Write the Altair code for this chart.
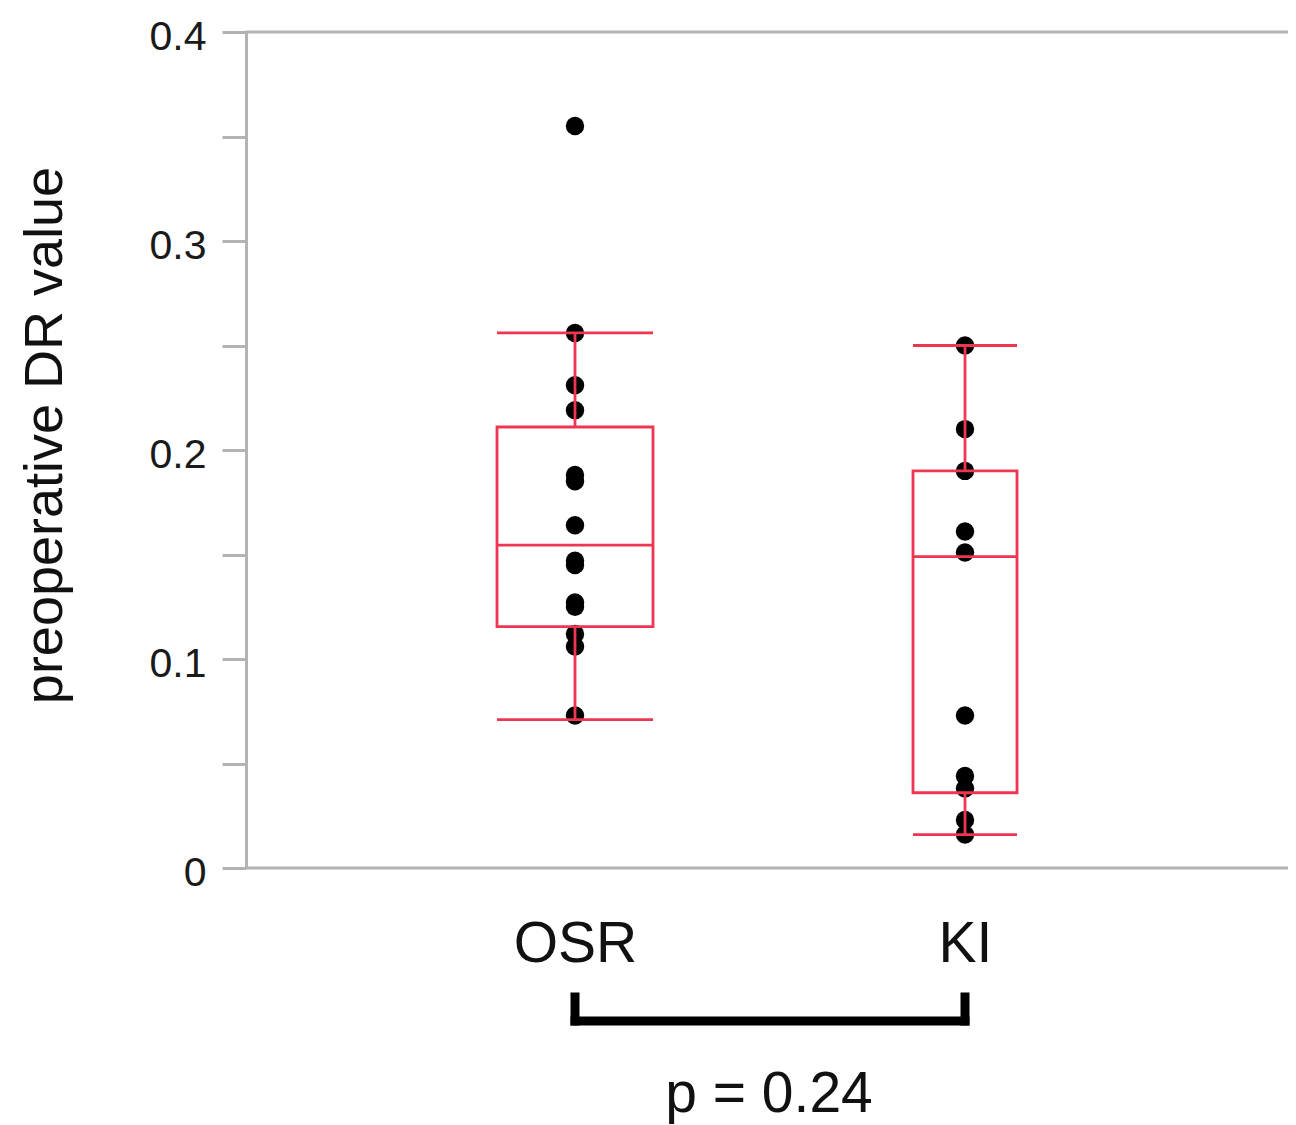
import altair as alt
import pandas as pd

# ---- data ----
groups = ["OSR", "KI"]
osr_values = [0.355, 0.256, 0.231, 0.219, 0.188, 0.185, 0.164, 0.147, 0.145,
              0.127, 0.125, 0.112, 0.106, 0.073]
ki_values = [0.250, 0.210, 0.190, 0.161, 0.151, 0.073, 0.044, 0.038, 0.023, 0.016]

box_low = [0.071, 0.016]
box_q1 = [0.1155, 0.036]
box_median = [0.1545, 0.149]
box_q3 = [0.211, 0.190]
box_high = [0.256, 0.250]

y_ticks = [0, 0.05, 0.1, 0.15, 0.2, 0.25, 0.3, 0.35, 0.4]
p_label = "p = 0.24"

points = pd.DataFrame({
    "group": ["OSR"] * len(osr_values) + ["KI"] * len(ki_values),
    "value": osr_values + ki_values,
})
stats = pd.DataFrame({
    "group": groups, "low": box_low, "q1": box_q1, "median": box_median,
    "q3": box_q3, "high": box_high,
})
bracket = pd.DataFrame({"group": groups})
bracket_h = pd.DataFrame({"a": [groups[0]], "b": [groups[1]]})

FONT = "Liberation Sans"
RED = "#ee3552"
GRAY = "#b3b3b3"

xscale = alt.Scale(type="point", domain=groups, range=[329, 719], padding=0)
yscale = alt.Scale(domain=[0, 0.4], nice=False, zero=True)

X = alt.X("group:N", scale=xscale, sort=groups,
          axis=alt.Axis(title=None, domain=False, ticks=False, labelFontSize=57,
                        labelFont=FONT, labelColor="#111111", labelPadding=48,
                        labelAngle=0))
Y = alt.Y("value:Q", scale=yscale,
          axis=alt.Axis(values=y_ticks, grid=False, domainColor=GRAY, domainWidth=3,
                        tickColor=GRAY, tickWidth=3, tickSize=24,
                        labelFont=FONT, labelFontSize=41, labelColor="#1a1a1a",
                        labelPadding=16, labelOffset=5,
                        labelExpr="abs(datum.value*10 - round(datum.value*10)) < 0.001 ? (datum.value == 0 ? '0' : format(datum.value, '.1f')) : ''",
                        title="preoperative DR value", titleFont=FONT,
                        titleFontSize=54, titleFontWeight="normal", titleColor="#111111",
                        titleAngle=270, titleAlign="center", titleBaseline="middle",
                        titleX=-201, titleY=403))

pts = alt.Chart(points).mark_circle(size=340, color="black", opacity=1).encode(x=X, y=Y)

frame = alt.Chart(pd.DataFrame({"v": [0.0, 0.4]})).mark_rule(
    color=GRAY, strokeWidth=3).encode(y=alt.Y("v:Q", scale=yscale))

def box_layers(group, width):
    s = alt.Chart(stats).transform_filter(alt.datum.group == group)
    xg = alt.X("group:N", scale=xscale)
    box = s.mark_bar(size=width, fillOpacity=0, stroke=RED, strokeWidth=2.8).encode(
        x=xg, y=alt.Y("q1:Q", scale=yscale), y2="q3:Q")
    med = s.mark_tick(size=width, thickness=2.8, color=RED, opacity=1).encode(
        x=xg, y=alt.Y("median:Q", scale=yscale))
    cap_lo = s.mark_tick(size=width, thickness=2.8, color=RED, opacity=1).encode(
        x=xg, y=alt.Y("low:Q", scale=yscale))
    cap_hi = s.mark_tick(size=width, thickness=2.8, color=RED, opacity=1).encode(
        x=xg, y=alt.Y("high:Q", scale=yscale))
    wl = s.mark_rule(color=RED, strokeWidth=2.8).encode(
        x=xg, y=alt.Y("low:Q", scale=yscale), y2="q1:Q")
    wh = s.mark_rule(color=RED, strokeWidth=2.8).encode(
        x=xg, y=alt.Y("q3:Q", scale=yscale), y2="high:Q")
    return [box, med, cap_lo, cap_hi, wl, wh]

brk_v = alt.Chart(bracket).mark_rule(color="black", strokeWidth=9, strokeCap="square").encode(
    x=alt.X("group:N", scale=xscale), y=alt.value(965), y2=alt.value(989))
brk_h = alt.Chart(bracket_h).mark_rule(color="black", strokeWidth=9, strokeCap="square").encode(
    x=alt.X("a:N", scale=xscale), x2="b:N", y=alt.value(989))
ptext = alt.Chart(pd.DataFrame({"t": [p_label]})).mark_text(
    font=FONT, fontSize=57, color="#111111", align="center", baseline="alphabetic").encode(
    text="t:N", x=alt.value(523), y=alt.value(1080))

layers = [frame, pts] + box_layers("OSR", 156) + box_layers("KI", 104) + [brk_v, brk_h, ptext]

chart = alt.layer(*layers).properties(
    width=1042, height=836,
    autosize=alt.AutoSizeParams(type="none"),
    padding={"left": 238, "top": 24, "right": 0, "bottom": 262},
).configure_view(strokeWidth=0).configure(background="white")

chart.save("out.html", embed_options={"renderer": "svg", "actions": False})
